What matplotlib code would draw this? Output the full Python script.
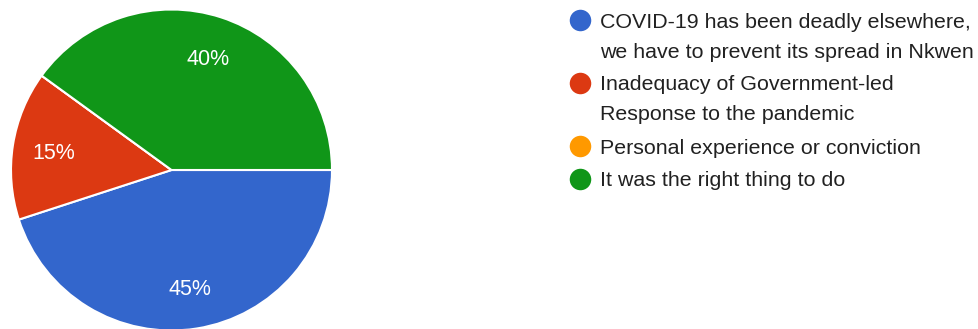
import matplotlib
matplotlib.use("Agg")
import matplotlib.pyplot as plt

plt.rcParams['font.family'] = ['Liberation Sans', 'DejaVu Sans']

labels = [
    "COVID-19 has been deadly elsewhere,\nwe have to prevent its spread in Nkwen",
    "Inadequacy of Government-led\nResponse to the pandemic",
    "Personal experience or conviction",
    "It was the right thing to do",
]
shares = [45, 15, 0, 40]
colors = ["#3366cc", "#dc3912", "#ff9900", "#109618"]

W, H = 979, 329
fig = plt.figure(figsize=(W / 100, H / 100), dpi=100)

# pie axes spans the figure; 1 data unit = pie radius in pixels
cx, cy, R = 171.5, 170.0, 160.5
ax = fig.add_axes([0, 0, 1, 1])
wedges, _, autotexts = ax.pie(
    shares, colors=colors, startangle=0, counterclock=False,
    autopct=lambda p: f"{p:.0f}%" if p > 0 else "",
    pctdistance=0.74, labels=None,
    wedgeprops=dict(edgecolor="white", linewidth=1.5),
    textprops=dict(color="white", fontsize=15.5),
)
for t in autotexts:
    t.set_verticalalignment("center_baseline")
ax.set_aspect("auto")
ax.set_xlim(-cx / R, (W - cx) / R)
ax.set_ylim(-(H - cy) / R, cy / R)
ax.axis("off")

# legend drawn in pixel coordinates, one text per line
lax = fig.add_axes([0, 0, 1, 1])
lax.set_xlim(0, W)
lax.set_ylim(H, 0)
lax.axis("off")
line_h = 30
y = 20
for lab, c in zip(labels, colors):
    lax.scatter([580], [y], s=240, color=c, linewidths=0)
    for k, line in enumerate(lab.split("\n")):
        lax.text(600, y + k * line_h, line, fontsize=15.4, color="#212121",
                 va="center_baseline", ha="left")
    y += line_h * (lab.count("\n") + 1) + 3

fig.savefig("out.png", dpi=100)
